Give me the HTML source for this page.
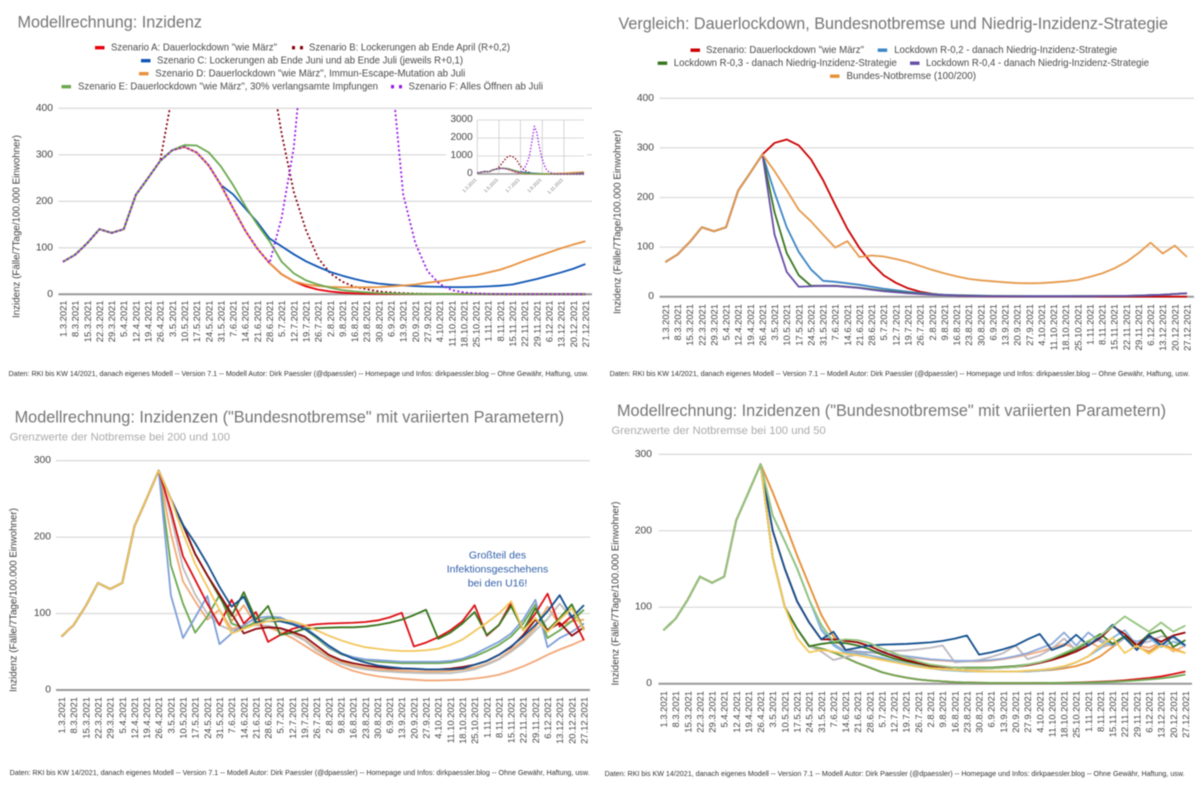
<!DOCTYPE html>
<html lang="de">
<head>
<meta charset="utf-8">
<title>Modellrechnung Inzidenz</title>
<style>
html,body{margin:0;padding:0;background:#fff;width:1200px;height:787px;overflow:hidden}
svg{display:block;filter:blur(0.4px)}
text{font-family:"Liberation Sans",sans-serif}
.title{font-size:17px;fill:#757575}
.sub{font-size:11px;fill:#aaaaaa}
.leg{font-size:10.5px;fill:#4a4a4a}
.foot{font-size:7.2px;fill:#333333}
.note{font-size:10.5px;fill:#2f5ea8;text-anchor:middle}
.ytitle{font-size:10.2px;fill:#444444;text-anchor:middle}
</style>
</head>
<body>
<svg id="root" width="1200" height="787" viewBox="0 0 1200 787" xmlns="http://www.w3.org/2000/svg" dominant-baseline="central">
<defs>
<clipPath id="clip-a"><rect x="50" y="108" width="545" height="190"/></clipPath>
<clipPath id="clip-b"><rect x="650" y="90" width="545" height="210"/></clipPath>
<clipPath id="clip-c"><rect x="50" y="455" width="545" height="238"/></clipPath>
<clipPath id="clip-d"><rect x="650" y="448" width="545" height="238"/></clipPath>
</defs>
<rect width="1200" height="787" fill="#fff"/>

<g id="chart-a">
<text class="title" x="17.5" y="22" textLength="184.5" lengthAdjust="spacingAndGlyphs">Modellrechnung: Inzidenz</text>
<g>
<rect x="95" y="46" width="9.5" height="3.4" fill="#e8000b"/>
<text class="leg" x="111" y="47.5" textLength="166" lengthAdjust="spacingAndGlyphs">Szenario A: Dauerlockdown "wie März"</text>
<rect x="292" y="46" width="3" height="3.4" fill="#85000b"/>
<rect x="300" y="46" width="3" height="3.4" fill="#85000b"/>
<text class="leg" x="309" y="47.5" textLength="201" lengthAdjust="spacingAndGlyphs">Szenario B: Lockerungen ab Ende April (R+0,2)</text>
<rect x="141" y="59" width="9.5" height="3.4" fill="#0f55b5"/>
<text class="leg" x="157" y="60.5" textLength="306" lengthAdjust="spacingAndGlyphs">Szenario C: Lockerungen ab Ende Juni und ab Ende Juli (jeweils R+0,1)</text>
<rect x="139" y="72" width="9.5" height="3.4" fill="#e8913c"/>
<text class="leg" x="155.3" y="73.5" textLength="310" lengthAdjust="spacingAndGlyphs">Szenario D: Dauerlockdown "wie März", Immun-Escape-Mutation ab Juli</text>
<rect x="61.5" y="85" width="9.5" height="3.4" fill="#6aa84f"/>
<text class="leg" x="78" y="86.5" textLength="300" lengthAdjust="spacingAndGlyphs">Szenario E: Dauerlockdown "wie März", 30% verlangsamte Impfungen</text>
<rect x="391" y="85" width="3" height="3.4" fill="#9a17e8"/>
<rect x="399" y="85" width="3" height="3.4" fill="#9a17e8"/>
<text class="leg" x="408.5" y="86.5" textLength="134.5" lengthAdjust="spacingAndGlyphs">Szenario F: Alles Öffnen ab Juli</text>
</g>
<text class="ytitle" transform="translate(17,226.5) rotate(-90)" textLength="183" lengthAdjust="spacingAndGlyphs">Inzidenz (Fälle/7Tage/100.000 Einwohner)</text>
<text class="foot" x="8.5" y="373.7" textLength="580" lengthAdjust="spacingAndGlyphs">Daten: RKI bis KW 14/2021, danach eigenes Modell -- Version 7.1 -- Modell Autor: Dirk Paessler (@dpaessler) -- Homepage und Infos: dirkpaessler.blog -- Ohne Gewähr, Haftung, usw.</text>
</g>

<g id="chart-b">
<text class="title" x="618.5" y="23.5" textLength="549.5" lengthAdjust="spacingAndGlyphs">Vergleich: Dauerlockdown, Bundesnotbremse und Niedrig-Inzidenz-Strategie</text>
<g>
<rect x="690.5" y="48.5" width="9.5" height="3.4" fill="#cc0000"/>
<text class="leg" x="706" y="50" textLength="158" lengthAdjust="spacingAndGlyphs">Szenario: Dauerlockdown "wie März"</text>
<rect x="877.7" y="48.5" width="9.5" height="3.4" fill="#3d85c6"/>
<text class="leg" x="894.2" y="50" textLength="223" lengthAdjust="spacingAndGlyphs">Lockdown R-0,2 - danach Niedrig-Inzidenz-Strategie</text>
<rect x="657.7" y="61.5" width="9.5" height="3.4" fill="#38761d"/>
<text class="leg" x="673.8" y="63" textLength="223" lengthAdjust="spacingAndGlyphs">Lockdown R-0,3 - danach Niedrig-Inzidenz-Strategie</text>
<rect x="910" y="61.5" width="9.5" height="3.4" fill="#674ea7"/>
<text class="leg" x="926" y="63" textLength="223" lengthAdjust="spacingAndGlyphs">Lockdown R-0,4 - danach Niedrig-Inzidenz-Strategie</text>
<rect x="830" y="74.5" width="9.5" height="3.4" fill="#e69138"/>
<text class="leg" x="846.5" y="76" textLength="129.5" lengthAdjust="spacingAndGlyphs">Bundes-Notbremse (100/200)</text>
</g>
<text class="ytitle" transform="translate(618,222) rotate(-90)" textLength="184" lengthAdjust="spacingAndGlyphs">Inzidenz (Fälle/7Tage/100.000 Einwohner)</text>
<text class="foot" x="609.6" y="373.7" textLength="580" lengthAdjust="spacingAndGlyphs">Daten: RKI bis KW 14/2021, danach eigenes Modell -- Version 7.1 -- Modell Autor: Dirk Paessler (@dpaessler) -- Homepage und Infos: dirkpaessler.blog -- Ohne Gewähr, Haftung, usw.</text>
</g>

<g id="chart-c">
<text class="title" x="14.6" y="417" textLength="549.5" lengthAdjust="spacingAndGlyphs">Modellrechnung: Inzidenzen ("Bundesnotbremse" mit variierten Parametern)</text>
<text class="sub" x="9.6" y="437.3" textLength="220.4" lengthAdjust="spacingAndGlyphs">Grenzwerte der Notbremse bei 200 und 100</text>
<text class="ytitle" transform="translate(14,600) rotate(-90)" textLength="184" lengthAdjust="spacingAndGlyphs">Inzidenz (Fälle/7Tage/100.000 Einwohner)</text>
<text class="foot" x="9.6" y="772.7" textLength="580" lengthAdjust="spacingAndGlyphs">Daten: RKI bis KW 14/2021, danach eigenes Modell -- Version 7.1 -- Modell Autor: Dirk Paessler (@dpaessler) -- Homepage und Infos: dirkpaessler.blog -- Ohne Gewähr, Haftung, usw.</text>
</g>

<g id="chart-d">
<text class="title" x="617" y="410.7" textLength="549" lengthAdjust="spacingAndGlyphs">Modellrechnung: Inzidenzen ("Bundesnotbremse" mit variierten Parametern)</text>
<text class="sub" x="611.5" y="431" textLength="214.3" lengthAdjust="spacingAndGlyphs">Grenzwerte der Notbremse bei 100 und 50</text>
<text class="ytitle" transform="translate(616,593.5) rotate(-90)" textLength="184" lengthAdjust="spacingAndGlyphs">Inzidenz (Fälle/7Tage/100.000 Einwohner)</text>
<text class="foot" x="604.6" y="773.7" textLength="580" lengthAdjust="spacingAndGlyphs">Daten: RKI bis KW 14/2021, danach eigenes Modell -- Version 7.1 -- Modell Autor: Dirk Paessler (@dpaessler) -- Homepage und Infos: dirkpaessler.blog -- Ohne Gewähr, Haftung, usw.</text>
</g>
</svg>

<script>
// ---------- shared categories and ticks ----------
const categories = ["1.3.2021","8.3.2021","15.3.2021","22.3.2021","29.3.2021","5.4.2021","12.4.2021","19.4.2021","26.4.2021","3.5.2021","10.5.2021","17.5.2021","24.5.2021","31.5.2021","7.6.2021","14.6.2021","21.6.2021","28.6.2021","5.7.2021","12.7.2021","19.7.2021","26.7.2021","2.8.2021","9.8.2021","16.8.2021","23.8.2021","30.8.2021","6.9.2021","13.9.2021","20.9.2021","27.9.2021","4.10.2021","11.10.2021","18.10.2021","25.10.2021","1.11.2021","8.11.2021","15.11.2021","22.11.2021","29.11.2021","6.12.2021","13.12.2021","20.12.2021","27.12.2021"];
const ticks400 = [0,100,200,300,400];
const ticks300 = [0,100,200,300];
const insetTicks = [0,1000,2000,3000];
const insetCategoryLabels = ["1.3.2021","1.5.2021","1.7.2021","1.9.2021","1.11.2021"];
const insetCategoryPositions = [0,8.7,17.4,26.2,34.9];
const history = [70,85,110,140,132,140,214,250,287];

// ---------- chart 1 values ----------
const scenarioA = history.concat([310,317,305,277,235,185,137,98,67,43,28,17,10,6,3.5,2,1.2,1,0.8,0.6,0.5,0.4,0.3,0.3,0.2,0.2,0.2,0.2,0.2,0.2,0.2,0.2,0.2,0.2,0.2]);
const scenarioB = history.concat([430,600,780,930,1000,990,900,760,500,345,220,138,78,45,27,16,11,6,4,2.5,1.5,1,0.8,0.6,0.5,0.4,0.3,0.3,0.2,0.2,0.2,0.2,0.2,0.2,0.2]);
const scenarioC = history.concat([310,317,305,277,235,215,185,155,120,103,86,71,59,48,40,33,27,23,20.5,19,17.5,16.5,16,15.5,15.5,16,17,18.5,21,27,33,40,47,55,65]);
const scenarioD = history.concat([310,317,305,277,235,185,137,98,67,43,28,21,18,16,15.2,15,15,15.5,17,19,21,25,28,32,37,41,47,53,62,72,81,90,99,107,114]);
const scenarioE = history.concat([310,321,320,305,275,235,190,150,114,70,45,30,21,14,9,6,4,2.5,1.8,1.2,0.8,0.6,0.5,0.4,0.3,0.3,0.2,0.2,0.2,0.2,0.2,0.2,0.2,0.2,0.2]);
const scenarioF = history.concat([310,317,305,277,235,185,137,98,67,165,316,596,1000,1800,2650,2300,1500,900,490,215,110,50,22,9,4,2,1,0.6,0.4,0.3,0.3,0.3,0.2,0.2,0.2]);

// ---------- chart 2 values ----------
const lockdownMinus02 = history.concat([210,140,90,55,32,30,27,24,20,16,13,10,7.5,5.5,4,3,2.5,2,1.6,1.4,1.2,1,1,1,1,1,1,1.2,1.4,1.7,2.2,3,4,5.5,7]);
const lockdownMinus03 = history.concat([170,88,43,22,22,22,20,18,15,12,10,8,6,4.5,3.2,2.5,2,1.5,1.3,1.1,1,0.9,0.9,0.9,0.9,1,1,1.2,1.4,1.7,2.2,3,4,5.5,7]);
const lockdownMinus04 = history.concat([125,50,20,21,22,21.5,19.5,17.5,14,11,9,7,5.5,4,3,2,1.5,1.2,1,0.9,0.8,0.8,0.8,0.8,0.8,0.9,1,1.2,1.4,1.7,2.2,3,4,5.5,7]);
const bundesNotbremse = history.concat([253,215,175,152,125,99,112,80,83,81,76,70,62,54,47,41,36,33,31,29,27.5,27,27.5,29,31,34,40,47,57,70,88,109,87,103,80]);

// ---------- chart 3 values ----------
const c3Periwinkle = history.concat([124,68,95,123,60,74,85,94,96,95,88,83,70,56,48,43,40,39,38,37,37,37,37,38,41,47,55,63,74,92,118,56,68,76,87]);
const c3Green = history.concat([163,113,75,96,124,87,81,89,94,94,87,80,68,55,47,42,39,37,36,35,35,35,35,36,39,44,51,59,70,87,112,68,78,90,105]);
const c3Red = history.concat([235,175,144,113,85,118,87,102,63,72,80,84,86,87,87.5,88,89,91,95,101,57,62,69,78,90,111,71,85,114,78,100,126,83,97,65]);
const c3DarkGreen = history.concat([250,215,178,150,122,97,128,92,110,72,75,80,81,81.5,82,82,83,85,88,92,98,105,67,75,87,102,72,85,110,78,107,78,94,112,78]);
const c3Navy = history.concat([250,216,192,165,135,109,122,88,90,90,86,80,70,58,48,41,36,32,30,28.5,28,27,27,27,28,33,38,46,57,70,85,103,124,95,111]);
const c3DarkRed = history.concat([250,216,178,150,125,100,74,80,82,81,76,70,58,46,39,35,32,30,28.5,28,27.5,27,27,28,30,33,38,46,56,72,92,78,88,71,82]);
const c3Yellow = history.concat([250,205,165,135,105,74,80,86,90,92,90,85,78,71,65,60,56,54,52,51,51,52,54,59,66,77,88,100,116,78,94,76,92,107,78]);
const c3Gray = history.concat([228,160,125,100,85,78,82,85,84,80,73,65,52,42,35,30,27,25,24,23,22.5,22,22,22,24,27,33,40,50,62,78,93,113,94,105]);
const c3Peach = history.concat([205,142,116,92,105,80,84,85,82,76,68,58,48,39,31,25,21,18,16,14.5,13.5,12.5,12.5,13,13.5,15,17,20,25,31,38,46,53,59,66]);
const c3Orange = history.concat([250,216,178,150,125,90,111,85,82,80,75,66,54,44,37,32,29,27,26,25,24,24,24,25,27,29,34,41,52,65,82,109,85,90,92]);

// ---------- chart 4 values ----------
const c4Red = history.concat([165,100,72,49,46,41,34,27,21,15,11,8,5.5,4,3,2,1.5,1.2,1,0.9,0.9,0.9,1,1,1.2,1.5,2,2.6,3.4,4.5,6,7.5,9.5,12.5,16]);
const c4GreenLow = history.concat([165,100,72,49,46,41,34,27,21,15,11,8,5.5,4,3,2,1.5,1.2,1,0.9,0.9,0.9,0.9,1,1.1,1.3,1.6,2,2.6,3.4,4.4,5.6,7,9,12]);
const c4Navy = history.concat([200,150,108,80,58,68,44,47,50,51,51.5,52,53,54,56,59,63,38,41,45,50,58,65,44,50,64,50,62,77,60,44,64,50,62,50]);
const c4Orange = history.concat([250,210,168,129,90,62,44,41,37,33,30,26,23,21,19,18,17,16.5,16,16,16,16,17,18,20,23,28,36,48,60,48,42,52,46,40]);
const c4LightGreen = history.concat([220,186,151,110,77,55,58,57,53,46,40,34,29,25,23,21,20,20,20,21,22,25,28,33,40,47,56,63,75,88,78,68,80,68,76]);
const c4DarkRed = history.concat([200,150,108,80,58,58,56,54,49,42,36,31,27,24,22,21,20,20,20,21,22,24,27,31,36,42,50,60,75,65,50,62,55,63,67]);
const c4DarkGreen = history.concat([165,100,72,49,52,54,53,50,45,38,33,29,26,23,22,21,21,21,21,22,23,25,28,32,38,45,55,65,52,62,50,65,70,48,57]);
const c4Gray = history.concat([165,100,72,49,42,31,35,38,42,42,43,43.5,45,47,50,28,29,31,35,40,50,32,37,46,59,44,52,58,52,60,52,55,62,60,50]);
const c4Periwinkle = history.concat([220,186,151,110,72,52,42,42,41,40,38,36,34,32,31,30,30,30,31,33,36,40,46,52,67,50,67,55,50,60,55,60,50,62,48]);
const c4Peach = history.concat([250,210,168,129,90,62,44,42,41,39,37,35,33,31,30,29,29,29,30,32,35,38,42,47,52,46,55,47,52,60,50,47,54,42,50]);
const c4LightBlue = history.concat([220,186,151,110,70,50,40,39,37,34,30,26,23,20,18,17,16,16,16,16,16,16,17,19,22,28,36,46,60,70,50,60,48,55,50]);
const c4Yellow = history.concat([165,100,60,41,44,42,39,37,34,31,28,25,22,20,19,18,17,16,16,16,16,17,18,20,23,28,36,50,60,40,50,39,50,44,40]);

// ---------- drawing ----------
const SVG_NS = 'http://www.w3.org/2000/svg';

function makeX(x0, x43){
  return function(i){ return x0 + (x43 - x0) * i / 43; };
}
function makeY(y0, yRef, refValue){
  return function(v){ return y0 - (y0 - yRef) * v / refValue; };
}
function node(tag, parent, props){
  const el = document.createElementNS(SVG_NS, tag);
  for (const k in props) el.setAttribute(k, props[k]);
  parent.appendChild(el);
  return el;
}
function drawGrid(parent, ticks, y, x1, x2, labelRight, fontSize){
  ticks.forEach(function(t){
    const line = node('line', parent, {x1:x1, x2:x2, y1:y(t), y2:y(t), stroke: t===0 ? '#999999' : '#dcdcdc', 'stroke-width': t===0 ? 2 : 1.3});
    
    
    const label = node('text', parent, {x:labelRight, y:y(t), 'text-anchor':'end', 'font-size':fontSize, fill:'#444444'});
    
    
    label.textContent = String(t);
  });
}
function drawXLabels(parent, x, top){
  categories.forEach(function(c, i){
    const label = node('text', parent, {'text-anchor':'end', 'font-size':9.4, fill:'#444444', transform:'translate(' + x(i) + ',' + top + ') rotate(-90)'});
    
    
    label.textContent = c;
  });
}
function drawLine(parent, values, x, y, color, width, dash, name){
  const pts = values.map(function(v, i){ return x(i).toFixed(2) + ',' + y(v).toFixed(2); }).join(' ');
  const props = {points:pts, fill:'none', stroke:color, 'stroke-width':width, 'stroke-linejoin':'round'};
  if (dash) props['stroke-dasharray'] = dash;
  const el = node('polyline', parent, props);
  
  
  return el;
}
function drawChart(rootId, clipId, xs, ys, ticks, gridX, labelRight, labelTop, series){
  const root = document.getElementById(rootId);
  const x = makeX(xs[0], xs[1]);
  const y = makeY(ys[0], ys[1], ticks[ticks.length - 1]);
  drawGrid(root, ticks, y, gridX[0], gridX[1], labelRight, 10.3);
  drawXLabels(root, x, labelTop);
  const plot = node('g', root, {'clip-path':'url(#' + clipId + ')'});
  
  
  series.forEach(function(s){
    drawLine(plot, s.values, x, y, s.color, s.width || 1.8, s.dash, s.name);
  });
}

const chartASeries = [
  {name:'line-scenario-a', values:scenarioA, color:'#e8000b'},
  {name:'line-scenario-b', values:scenarioB, color:'#85000b', dash:'2 2.4'},
  {name:'line-scenario-c', values:scenarioC, color:'#0f55b5'},
  {name:'line-scenario-d', values:scenarioD, color:'#e8913c'},
  {name:'line-scenario-e', values:scenarioE, color:'#6aa84f'},
  {name:'line-scenario-f', values:scenarioF, color:'#9a17e8', dash:'2 2.4'}
];
drawChart('chart-a', 'clip-a', [63, 585.4], [294.3, 108.3], ticks400, [58.5, 592], 53, 300.5, chartASeries);

// inset of chart 1
(function(){
  const root = document.getElementById('chart-a');
  const inset = node('g', root, {});
  
  
  const bg = node('rect', inset, {x:446, y:112, width:141, height:87, fill:'#ffffff'});
  
  
  const x = makeX(477.3, 584);
  const y = makeY(174, 120, 3000);
  insetCategoryPositions.forEach(function(p, i){
    const v = node('line', inset, {x1:x(p), x2:x(p), y1:120, y2:174, stroke:'#cccccc', 'stroke-width':0.8});
    
    
    const t = node('text', inset, {'text-anchor':'end', 'font-size':4.6, fill:'#777777', transform:'translate(' + (x(p) - 1.5) + ',179) rotate(-45)'});
    
    
    t.textContent = insetCategoryLabels[i];
  });
  insetTicks.forEach(function(t){
    const line = node('line', inset, {x1:477.3, x2:584, y1:y(t), y2:y(t), stroke: t===0 ? '#999999' : '#cccccc', 'stroke-width': t===0 ? 1.4 : 0.8});
    
    
    const label = node('text', inset, {x:472.7, y:y(t) - 0.5, 'text-anchor':'end', 'font-size':10, fill:'#444444'});
    
    
    label.textContent = String(t);
  });
  chartASeries.forEach(function(s){
    const dotted = s.dash ? '1.4 1.8' : null;
    drawLine(inset, s.values, x, y, s.color, 1.3, dotted, 'inset-' + s.name);
  });
})();

drawChart('chart-b', 'clip-b', [665.4, 1187], [296.7, 98.3], ticks400, [659.6, 1194], 654, 304, [
  {name:'line-dauerlockdown', values:scenarioA, color:'#cc0000'},
  {name:'line-lockdown-r02', values:lockdownMinus02, color:'#3d85c6'},
  {name:'line-lockdown-r03', values:lockdownMinus03, color:'#38761d'},
  {name:'line-lockdown-r04', values:lockdownMinus04, color:'#674ea7'},
  {name:'line-bundes-notbremse', values:bundesNotbremse, color:'#e69a4c'}
]);

drawChart('chart-c', 'clip-c', [61.5, 584], [690, 460.7], ticks300, [56, 590], 51, 697, [
  {name:'line-orange', values:c3Orange, color:'#f0a868'},
  {name:'line-peach', values:c3Peach, color:'#f2a878'},
  {name:'line-gray', values:c3Gray, color:'#bdbdbd'},
  {name:'line-green', values:c3Green, color:'#6aa84f'},
  {name:'line-periwinkle', values:c3Periwinkle, color:'#7f9fd8'},
  {name:'line-red', values:c3Red, color:'#dc0f14'},
  {name:'line-dark-green', values:c3DarkGreen, color:'#38761d'},
  {name:'line-dark-red', values:c3DarkRed, color:'#8c0a10'},
  {name:'line-navy', values:c3Navy, color:'#13508f'},
  {name:'line-yellow', values:c3Yellow, color:'#f2c75c'}
]);

drawChart('chart-d', 'clip-d', [663.5, 1185.4], [683.7, 454.3], ticks300, [658.5, 1192], 652, 691, [
  {name:'line-red-low', values:c4Red, color:'#dc0f14'},
  {name:'line-green-low', values:c4GreenLow, color:'#6aa84f'},
  {name:'line-peach', values:c4Peach, color:'#f2ab80'},
  {name:'line-orange', values:c4Orange, color:'#e69138'},
  {name:'line-gray', values:c4Gray, color:'#bdb8c0'},
  {name:'line-periwinkle', values:c4Periwinkle, color:'#8eaadb'},
  {name:'line-light-blue', values:c4LightBlue, color:'#84b8de'},
  {name:'line-dark-green', values:c4DarkGreen, color:'#38761d'},
  {name:'line-dark-red', values:c4DarkRed, color:'#990000'},
  {name:'line-navy', values:c4Navy, color:'#13508f'},
  {name:'line-yellow', values:c4Yellow, color:'#f5c85a'},
  {name:'line-light-green', values:c4LightGreen, color:'#93c47d'}
]);

// annotation of chart 3
(function(){
  const root = document.getElementById('chart-c');
  const lines = ['Großteil des', 'Infektionsgeschehens', 'bei den U16!'];
  lines.forEach(function(t, i){
    const el = node('text', root, {x:497.5, y:555.3 + 14 * i, 'class':'note'});
    
    
    el.textContent = t;
  });
})();
</script>
</body>
</html>
